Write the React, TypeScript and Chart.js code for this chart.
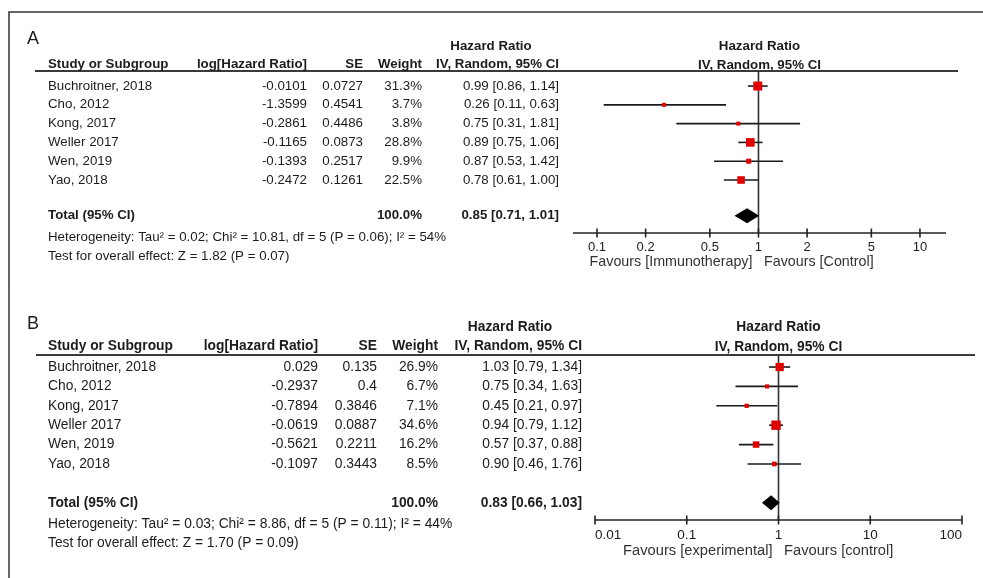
import React, { useEffect, useRef } from "react";
import { Chart, registerables } from "chart.js";

Chart.register(...registerables);

// ---------------- DATA ----------------
const STUDIES = ["Buchroitner, 2018", "Cho, 2012", "Kong, 2017", "Weller 2017", "Wen, 2019", "Yao, 2018"];
const COLUMN_HEADERS = ["Study or Subgroup", "log[Hazard Ratio]", "SE", "Weight", "IV, Random, 95% CI"];

const LOG_HR_A = [-0.0101, -1.3599, -0.2861, -0.1165, -0.1393, -0.2472];
const SE_A = [0.0727, 0.4541, 0.4486, 0.0873, 0.2517, 0.1261];
const WEIGHT_A = [31.3, 3.7, 3.8, 28.8, 9.9, 22.5];
const HR_A = [0.99, 0.26, 0.75, 0.89, 0.87, 0.78];
const LOW_A = [0.86, 0.11, 0.31, 0.75, 0.53, 0.61];
const HIGH_A = [1.14, 0.63, 1.81, 1.06, 1.42, 1.0];
const TOTAL_A = [0.85, 0.71, 1.01];
const TICKS_A = [0.1, 0.2, 0.5, 1, 2, 5, 10];
const HET_A = "Heterogeneity: Tau\u00B2 = 0.02; Chi\u00B2 = 10.81, df = 5 (P = 0.06); I\u00B2 = 54%";
const TEST_A = "Test for overall effect: Z = 1.82 (P = 0.07)";
const FAVOURS_A = ["Favours [Immunotherapy]", "Favours [Control]"];

const LOG_HR_B = [0.029, -0.2937, -0.7894, -0.0619, -0.5621, -0.1097];
const SE_B = [0.135, 0.4, 0.3846, 0.0887, 0.2211, 0.3443];
const WEIGHT_B = [26.9, 6.7, 7.1, 34.6, 16.2, 8.5];
const HR_B = [1.03, 0.75, 0.45, 0.94, 0.57, 0.9];
const LOW_B = [0.79, 0.34, 0.21, 0.79, 0.37, 0.46];
const HIGH_B = [1.34, 1.63, 0.97, 1.12, 0.88, 1.76];
const TOTAL_B = [0.83, 0.66, 1.03];
const TICKS_B = [0.01, 0.1, 1, 10, 100];
const HET_B = "Heterogeneity: Tau\u00B2 = 0.03; Chi\u00B2 = 8.86, df = 5 (P = 0.11); I\u00B2 = 44%";
const TEST_B = "Test for overall effect: Z = 1.70 (P = 0.09)";
const FAVOURS_B = ["Favours [experimental]", "Favours [control]"];

// ---------------- LAYOUT ----------------
type Layout = {
  top: number; height: number; font: number; tickFont: number; favFont: number;
  padLeft: number; padRight: number; padTop: number; padBottom: number;
  xMin: number; xMax: number; yMin: number; yMax: number; totalRow: number;
  labelY: number; hdr1Y: number; hdr2Y: number; lineStart: number; lineEnd: number;
  colStudy: number; colLog: number; colSe: number; colWeight: number; colCi: number; hrCenter: number;
  hetY: number; testY: number; tickLabelY: number; favY: number; topBorder: boolean;
};

type PanelDef = {
  label: string; logHr: number[]; se: number[]; weight: number[]; hr: number[]; low: number[]; high: number[];
  total: number[]; ticks: number[]; het: string; test: string; favours: string[]; lay: Layout;
};

const LAYOUT_A: Layout = {
  top: 0, height: 289, font: 13.3, tickFont: 13, favFont: 14.3,
  padLeft: 573, padRight: 37, padTop: 71, padBottom: 56,
  xMin: 0.071, xMax: 14.5, yMin: -0.8, yMax: 7.82, totalRow: 6.9,
  labelY: 39, hdr1Y: 46, hdr2Y: 64, lineStart: 35, lineEnd: 958,
  colStudy: 48, colLog: 307, colSe: 363, colWeight: 422, colCi: 559, hrCenter: 491,
  hetY: 237, testY: 256, tickLabelY: 247, favY: 262, topBorder: true,
};

const LAYOUT_B: Layout = {
  top: 289, height: 289, font: 13.8, tickFont: 13.5, favFont: 14.7,
  padLeft: 595, padRight: 21, padTop: 66, padBottom: 58,
  xMin: 0.01, xMax: 100, yMin: -0.62, yMax: 7.89, totalRow: 7,
  labelY: 35, hdr1Y: 38, hdr2Y: 57, lineStart: 36, lineEnd: 975,
  colStudy: 48, colLog: 318, colSe: 377, colWeight: 438, colCi: 582, hrCenter: 510,
  hetY: 235, testY: 254, tickLabelY: 246, favY: 262, topBorder: false,
};

const PANEL_A: PanelDef = {
  label: "A", logHr: LOG_HR_A, se: SE_A, weight: WEIGHT_A, hr: HR_A, low: LOW_A, high: HIGH_A,
  total: TOTAL_A, ticks: TICKS_A, het: HET_A, test: TEST_A, favours: FAVOURS_A, lay: LAYOUT_A,
};
const PANEL_B: PanelDef = {
  label: "B", logHr: LOG_HR_B, se: SE_B, weight: WEIGHT_B, hr: HR_B, low: LOW_B, high: HIGH_B,
  total: TOTAL_B, ticks: TICKS_B, het: HET_B, test: TEST_B, favours: FAVOURS_B, lay: LAYOUT_B,
};

const FONT_FAMILY = '"Liberation Sans", Arial, Helvetica, sans-serif';
const TEXT = "#1c1c1c";
const RED = "#e00000";

// square side grows with sqrt(weight), with a small minimum like RevMan
const squareRadius = (w: number) => Math.max(4, 1.6 * Math.sqrt(w)) / Math.SQRT2;

function makePlugin(p: PanelDef) {
  const L = p.lay;
  return {
    id: "forest" + p.label,
    beforeDatasetsDraw(chart: any) {
      const ctx = chart.ctx as CanvasRenderingContext2D;
      const a = chart.chartArea;
      const xs = chart.scales.x;
      ctx.save();
      // header rule
      ctx.strokeStyle = "#3a3a3a";
      ctx.lineWidth = 2;
      ctx.beginPath();
      ctx.moveTo(L.lineStart, a.top);
      ctx.lineTo(L.lineEnd, a.top);
      ctx.stroke();
      // line of no effect
      const x1 = xs.getPixelForValue(1);
      ctx.strokeStyle = "#333";
      ctx.lineWidth = 1.6;
      ctx.beginPath();
      ctx.moveTo(x1, a.top);
      ctx.lineTo(x1, a.bottom);
      ctx.stroke();
      // axis
      ctx.strokeStyle = "#222";
      ctx.lineWidth = 1.6;
      ctx.beginPath();
      ctx.moveTo(a.left, a.bottom);
      ctx.lineTo(a.right, a.bottom);
      ctx.stroke();
      for (const t of p.ticks) {
        const tx = xs.getPixelForValue(t);
        ctx.beginPath();
        ctx.moveTo(tx, a.bottom - 4.5);
        ctx.lineTo(tx, a.bottom + 4.5);
        ctx.stroke();
      }
      ctx.restore();
    },
    afterDatasetsDraw(chart: any) {
      const ctx = chart.ctx as CanvasRenderingContext2D;
      const xs = chart.scales.x;
      const ys = chart.scales.y;
      const yc = ys.getPixelForValue(L.totalRow);
      const xe = xs.getPixelForValue(p.total[0]);
      const xl = xs.getPixelForValue(p.total[1]);
      const xh = xs.getPixelForValue(p.total[2]);
      ctx.save();
      ctx.fillStyle = "#000";
      ctx.beginPath();
      ctx.moveTo(xl, yc);
      ctx.lineTo(xe, yc - 7.5);
      ctx.lineTo(xh, yc);
      ctx.lineTo(xe, yc + 7.5);
      ctx.closePath();
      ctx.fill();
      ctx.restore();
    },
    afterDraw(chart: any) {
      const ctx = chart.ctx as CanvasRenderingContext2D;
      const a = chart.chartArea;
      const xs = chart.scales.x;
      const ys = chart.scales.y;
      ctx.save();
      // frame
      ctx.strokeStyle = "#333";
      ctx.lineWidth = 1.5;
      ctx.beginPath();
      if (L.topBorder) {
        ctx.moveTo(983, 12);
        ctx.lineTo(9, 12);
        ctx.lineTo(9, L.height);
      } else {
        ctx.moveTo(9, 0);
        ctx.lineTo(9, L.height);
      }
      ctx.stroke();

      ctx.textBaseline = "middle";
      ctx.fillStyle = TEXT;
      const reg = `${L.font}px ${FONT_FAMILY}`;
      const bold = `bold ${L.font}px ${FONT_FAMILY}`;
      const put = (s: string, x: number, y: number, align: CanvasTextAlign, font: string) => {
        ctx.font = font;
        ctx.textAlign = align;
        ctx.fillText(s, x, y);
      };
      // panel letter
      put(p.label, 27, L.labelY, "left", `18px ${FONT_FAMILY}`);
      // table headers
      put("Hazard Ratio", L.hrCenter, L.hdr1Y, "center", bold);
      put(COLUMN_HEADERS[0], L.colStudy, L.hdr2Y, "left", bold);
      put(COLUMN_HEADERS[1], L.colLog, L.hdr2Y, "right", bold);
      put(COLUMN_HEADERS[2], L.colSe, L.hdr2Y, "right", bold);
      put(COLUMN_HEADERS[3], L.colWeight, L.hdr2Y, "right", bold);
      put(COLUMN_HEADERS[4], L.colCi, L.hdr2Y, "right", bold);
      // plot headers
      const pc = (a.left + a.right) / 2;
      put("Hazard Ratio", pc, L.hdr1Y, "center", bold);
      put(COLUMN_HEADERS[4], pc, L.hdr2Y + 1, "center", bold);
      // rows
      STUDIES.forEach((s, i) => {
        const y = ys.getPixelForValue(i);
        put(s, L.colStudy, y, "left", reg);
        put(String(p.logHr[i]), L.colLog, y, "right", reg);
        put(String(p.se[i]), L.colSe, y, "right", reg);
        put(p.weight[i].toFixed(1) + "%", L.colWeight, y, "right", reg);
        put(`${p.hr[i].toFixed(2)} [${p.low[i].toFixed(2)}, ${p.high[i].toFixed(2)}]`, L.colCi, y, "right", reg);
      });
      // total
      const yt = ys.getPixelForValue(L.totalRow);
      put("Total (95% CI)", L.colStudy, yt, "left", bold);
      const wsum = p.weight.reduce((u, v) => u + v, 0);
      put(wsum.toFixed(1) + "%", L.colWeight, yt, "right", bold);
      put(`${p.total[0].toFixed(2)} [${p.total[1].toFixed(2)}, ${p.total[2].toFixed(2)}]`, L.colCi, yt, "right", bold);
      put(p.het, L.colStudy, L.hetY, "left", reg);
      put(p.test, L.colStudy, L.testY, "left", reg);
      // tick labels
      ctx.font = `${L.tickFont}px ${FONT_FAMILY}`;
      ctx.textAlign = "center";
      for (const t of p.ticks) {
        const s = String(t);
        const w = ctx.measureText(s).width;
        let tx = xs.getPixelForValue(t);
        tx = Math.max(a.left + w / 2, Math.min(a.right - w / 2, tx));
        ctx.fillText(s, tx, L.tickLabelY);
      }
      // favours
      const x1 = xs.getPixelForValue(1);
      ctx.fillStyle = "#333";
      put(p.favours[0], x1 - 6, L.favY, "right", `${L.favFont}px ${FONT_FAMILY}`);
      put(p.favours[1], x1 + 5.5, L.favY, "left", `${L.favFont}px ${FONT_FAMILY}`);
      ctx.restore();
    },
  };
}

function ForestPanel({ def }: { def: PanelDef }) {
  const ref = useRef<HTMLCanvasElement>(null);
  useEffect(() => {
    const canvas = ref.current;
    if (!canvas) return;
    const L = def.lay;
    const radii = def.weight.map(squareRadius);
    const squares = {
      data: def.hr.map((v, i) => ({ x: v, y: i })),
      showLine: false,
      pointStyle: "rect",
      pointRadius: radii,
      pointHoverRadius: radii,
      pointBorderWidth: 0,
      pointBackgroundColor: RED,
      borderColor: RED,
      order: 0,
    };
    const whiskers = def.hr.map((_, i) => ({
      data: [
        { x: def.low[i], y: i },
        { x: def.high[i], y: i },
      ],
      showLine: true,
      borderColor: "#1a1a1a",
      borderWidth: 1.6,
      pointRadius: 0,
      pointHoverRadius: 0,
      order: 1,
    }));
    const chart = new Chart(canvas, {
      type: "scatter",
      data: { datasets: [squares as any, ...whiskers] },
      options: {
        animation: false,
        responsive: false,
        events: [],
        layout: { padding: { left: L.padLeft, right: L.padRight, top: L.padTop, bottom: L.padBottom } },
        plugins: { legend: { display: false }, tooltip: { enabled: false } },
        scales: {
          x: { type: "logarithmic", min: L.xMin, max: L.xMax, display: false },
          y: { type: "linear", min: L.yMin, max: L.yMax, reverse: true, display: false },
        },
      },
      plugins: [makePlugin(def)],
    });
    return () => chart.destroy();
  }, [def]);
  return (
    <canvas
      ref={ref}
      width={983}
      height={def.lay.height}
      style={{ position: "absolute", left: 0, top: def.lay.top, width: 983, height: def.lay.height, display: "block" }}
    />
  );
}

export default function App() {
  return (
    <div style={{ position: "fixed", left: 0, top: 0, width: 983, height: 578, background: "#fff", overflow: "hidden" }}>
      <ForestPanel def={PANEL_A} />
      <ForestPanel def={PANEL_B} />
    </div>
  );
}
